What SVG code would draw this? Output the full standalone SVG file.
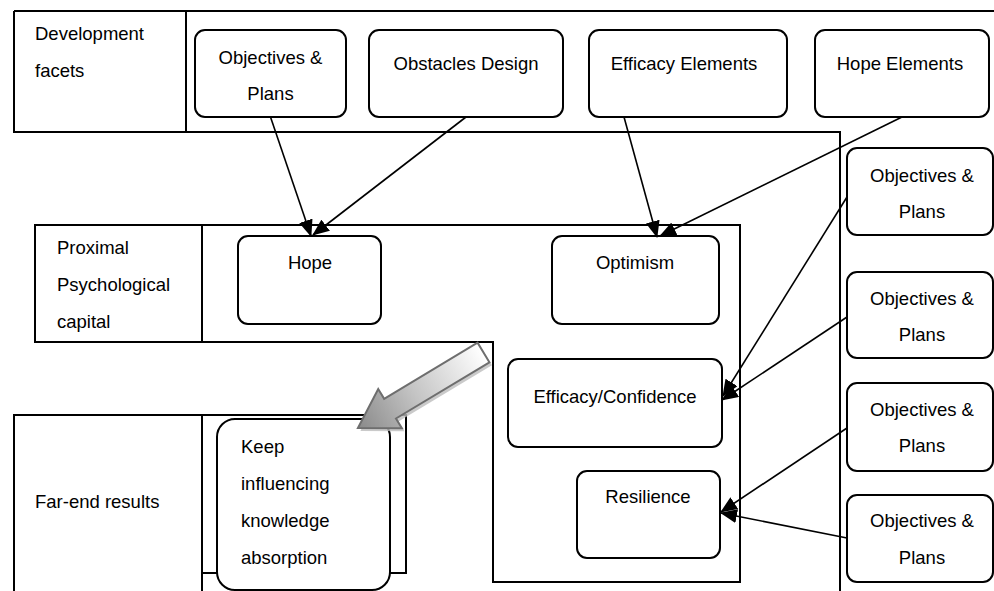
<svg xmlns="http://www.w3.org/2000/svg" width="994" height="591" viewBox="0 0 994 591">
<defs>
<style>
.frame{fill:none;stroke:#000;stroke-width:2}
.box{fill:#fff;stroke:#000;stroke-width:2}
.t{font-family:"Liberation Sans",Arial,sans-serif;font-size:18.5px;fill:#000}
.c{text-anchor:middle}
.conn{stroke:#000;stroke-width:1.6;fill:none;marker-end:url(#ah)}
</style>
<marker id="ah" markerUnits="userSpaceOnUse" markerWidth="17" markerHeight="14" refX="16" refY="7" orient="auto">
<path d="M0,0 L17,7 L0,14 z" fill="#000"/>
</marker>
<linearGradient id="gg" x1="0" y1="0" x2="146" y2="0" gradientUnits="userSpaceOnUse">
<stop offset="0" stop-color="#ffffff"/>
<stop offset="0.55" stop-color="#c4c4c4"/>
<stop offset="1" stop-color="#8a8a8a"/>
</linearGradient>
</defs>
<rect width="994" height="591" fill="#fff"/>

<g id="frames">
<path class="frame" d="M14,11 H994 M14,11 V132 H840 V591 M186,11 V132"/>
<path class="frame" d="M35,225 H740 V582 H493 V342 H35 Z M202,225 V342"/>
<path class="frame" d="M14,591 V415 H406 V573 H202 M202,415 V591"/>
</g>

<g id="label-development">
<text class="t" x="35" y="40">Development</text>
<text class="t" x="35" y="77">facets</text>
</g>
<g id="label-proximal">
<text class="t" x="57" y="254">Proximal</text>
<text class="t" x="57" y="291">Psychological</text>
<text class="t" x="57" y="328">capital</text>
</g>
<g id="label-farend">
<text class="t" x="35" y="508">Far-end results</text>
</g>

<g id="n-objectives-top">
<rect class="box" x="195" y="30" width="151" height="87" rx="10"/>
<text class="t c" x="270.5" y="64">Objectives &amp;</text>
<text class="t c" x="270.5" y="100">Plans</text>
</g>
<g id="n-obstacles">
<rect class="box" x="369" y="30" width="194" height="87" rx="10"/>
<text class="t c" x="466" y="70">Obstacles Design</text>
</g>
<g id="n-efficacy-elements">
<rect class="box" x="589" y="30" width="198" height="87" rx="10"/>
<text class="t c" x="684" y="70">Efficacy Elements</text>
</g>
<g id="n-hope-elements">
<rect class="box" x="815" y="30" width="174" height="87" rx="10"/>
<text class="t c" x="900" y="70">Hope Elements</text>
</g>

<g id="n-hope">
<rect class="box" x="238" y="236" width="143" height="88" rx="10"/>
<text class="t c" x="310" y="269">Hope</text>
</g>
<g id="n-optimism">
<rect class="box" x="552" y="236" width="167" height="88" rx="10"/>
<text class="t c" x="635" y="269">Optimism</text>
</g>
<g id="n-efficacy">
<rect class="box" x="508" y="359" width="214" height="88" rx="10"/>
<text class="t c" x="615" y="403">Efficacy/Confidence</text>
</g>
<g id="n-resilience">
<rect class="box" x="577" y="471" width="143" height="87" rx="10"/>
<text class="t c" x="648" y="503">Resilience</text>
</g>

<g id="n-obj-r1">
<rect class="box" x="847" y="148" width="146" height="87" rx="10"/>
<text class="t c" x="922" y="182">Objectives &amp;</text>
<text class="t c" x="922" y="218">Plans</text>
</g>
<g id="n-obj-r2">
<rect class="box" x="847" y="272" width="146" height="86" rx="10"/>
<text class="t c" x="922" y="305">Objectives &amp;</text>
<text class="t c" x="922" y="341">Plans</text>
</g>
<g id="n-obj-r3">
<rect class="box" x="847" y="383" width="146" height="88" rx="10"/>
<text class="t c" x="922" y="416">Objectives &amp;</text>
<text class="t c" x="922" y="452">Plans</text>
</g>
<g id="n-obj-r4">
<rect class="box" x="847" y="495" width="146" height="87" rx="10"/>
<text class="t c" x="922" y="527">Objectives &amp;</text>
<text class="t c" x="922" y="564">Plans</text>
</g>

<g id="n-keep">
<rect class="box" x="217" y="419" width="173" height="171" rx="18"/>
<text class="t" x="241" y="453">Keep</text>
<text class="t" x="241" y="490">influencing</text>
<text class="t" x="241" y="527">knowledge</text>
<text class="t" x="241" y="564">absorption</text>
</g>

<g id="connectors">
<line class="conn" x1="270.5" y1="117" x2="311" y2="236"/>
<line class="conn" x1="466" y1="117" x2="313" y2="235"/>
<line class="conn" x1="624" y1="117" x2="657" y2="237"/>
<line class="conn" x1="902" y1="117" x2="660" y2="236"/>
<line class="conn" x1="847" y1="197" x2="723" y2="396"/>
<line class="conn" x1="847" y1="317" x2="722" y2="400"/>
<line class="conn" x1="847" y1="428" x2="721" y2="512"/>
<line class="conn" x1="847" y1="538" x2="721" y2="513"/>
<g id="big-arrow">
<polygon transform="translate(486,355.5) rotate(149)" points="0,-11.5 109,-11.5 109,-23 146.5,0 109,23 109,11.5 0,11.5" fill="#bdbdbd" opacity="0.8"/>
<polygon transform="translate(483.5,352.5) rotate(149)" points="0,-11.5 109,-11.5 109,-23 146.5,0 109,23 109,11.5 0,11.5" fill="url(#gg)" stroke="#6e6e6e" stroke-width="2" stroke-linejoin="miter"/>
</g>
</g>
</svg>
